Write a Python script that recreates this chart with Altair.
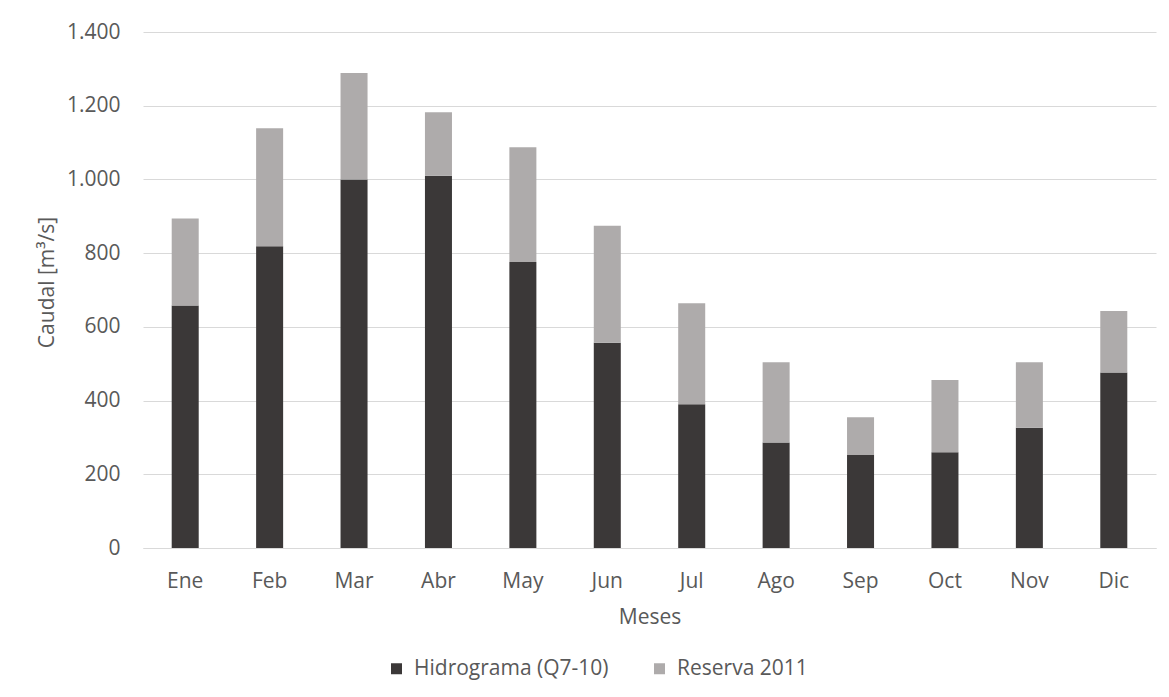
import altair as alt
import pandas as pd

# Monthly flow (m³/s): base hydrograph plus the 2011 reserve stacked on top
meses = ["Ene", "Feb", "Mar", "Abr", "May", "Jun", "Jul", "Ago", "Sep", "Oct", "Nov", "Dic"]
hidrograma = [658, 819, 1000, 1010, 776, 557, 390, 286, 252, 260, 326, 476]
reserva = [236, 320, 289, 172, 311, 317, 274, 218, 103, 196, 178, 167]

serie_hidro = "Hidrograma (Q7-10)"
serie_reserva = "Reserva 2011"

rows = []
for m, h, r in zip(meses, hidrograma, reserva):
    rows.append({"Mes": m, "Serie": serie_hidro, "Caudal": h, "orden": 0})
    rows.append({"Mes": m, "Serie": serie_reserva, "Caudal": r, "orden": 1})
df = pd.DataFrame(rows)

FONT = "Open Sans"
TEXT = "#595959"
GRID = "#d9d9d9"
SIZE = 21

bars = alt.Chart(df).mark_bar().encode(
    x=alt.X(
        "Mes:N",
        sort=meses,
        scale=alt.Scale(paddingInner=0.68, paddingOuter=0.34),
        axis=alt.Axis(
            title="Meses",
            labelAngle=0,
            ticks=False,
            tickSize=0,
            labelPadding=39,
            labelBaseline="alphabetic",
            titleY=75,
            titleBaseline="alphabetic",
            domainColor=GRID,
            grid=False,
        ),
    ),
    y=alt.Y(
        "Caudal:Q",
        stack="zero",
        scale=alt.Scale(domain=[0, 1400], nice=False),
        axis=alt.Axis(
            title="Caudal [m³/s]",
            values=list(range(0, 1401, 200)),
            labelExpr="replace(format(datum.value, ','), ',', '.')",
            ticks=False,
            tickSize=0,
            domain=False,
            labelPadding=23,
            labelBaseline="middle",
            gridColor=GRID,
            gridWidth=1,
            titleX=-90,
            titleY=250,
            titleAngle=-90,
            titleAlign="center",
            titleBaseline="alphabetic",
        ),
    ),
    color=alt.Color(
        "Serie:N",
        scale=alt.Scale(domain=[serie_hidro, serie_reserva], range=["#3b3838", "#aeabab"]),
        legend=alt.Legend(
            title=None,
            orient="none",
            direction="horizontal",
            legendX=243,
            legendY=626,
            symbolType="square",
            symbolSize=121,
            symbolStrokeWidth=0,
            labelOffset=7,
            labelLimit=400,
            columnPadding=40,
            padding=0,
            labelFontSize=SIZE,
            labelColor=TEXT,
            labelFont=FONT,
        ),
    ),
    order=alt.Order("orden:Q", sort="ascending"),
)

chart = bars.properties(
    width=1013,
    height=516,
    autosize=alt.AutoSizeParams(type="none"),
    padding={"left": 143, "top": 32, "right": 13, "bottom": 149},
    background="white",
).configure_view(
    stroke=None
).configure_axis(
    labelFont=FONT,
    titleFont=FONT,
    labelFontSize=SIZE,
    titleFontSize=SIZE,
    labelColor=TEXT,
    titleColor=TEXT,
    titleFontWeight="normal",
)

chart.save("out.html", embed_options={"renderer": "svg", "actions": False})
